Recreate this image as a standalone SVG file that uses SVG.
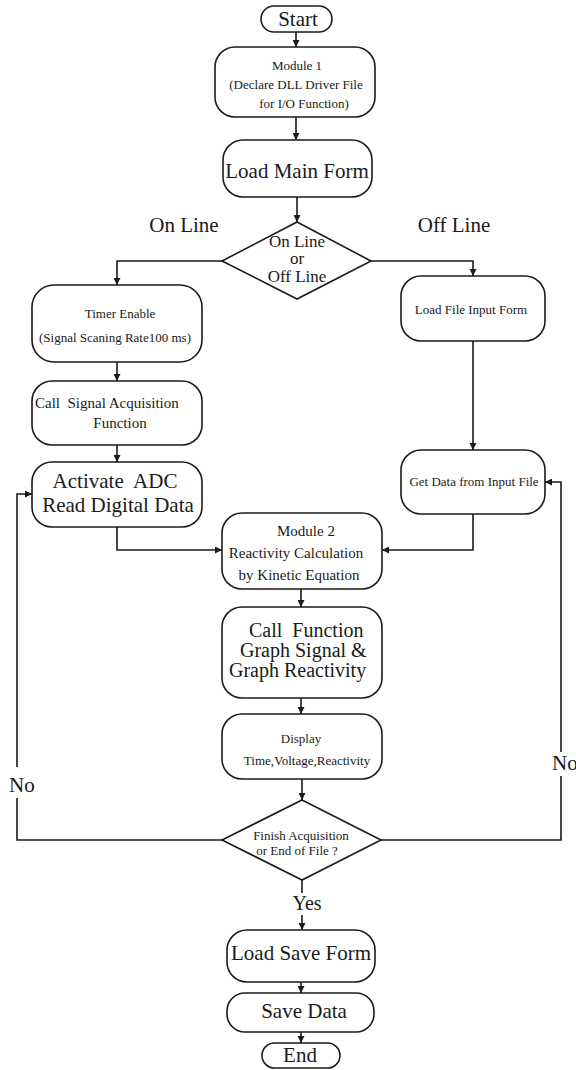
<svg xmlns="http://www.w3.org/2000/svg" width="576" height="1070" viewBox="0 0 576 1070">
<style>
.n{fill:#fff;stroke:#1a1a1a;stroke-width:1.6}
.c{fill:none;stroke:#1a1a1a;stroke-width:1.6}
text{font-family:"Liberation Serif","Times New Roman",serif;fill:#1a1a1a}
.m{text-anchor:middle}
.s13{font-size:13px}
.s15{font-size:15px}
.s17{font-size:17px}
.s20{font-size:20px}
.s21{font-size:21px}
</style>
<defs>
<marker id="ah" viewBox="0 0 8 8" refX="8" refY="4" markerWidth="7" markerHeight="7" markerUnits="userSpaceOnUse" orient="auto">
<path d="M0,0 L8,4 L0,8 z" fill="#1a1a1a"/>
</marker>
</defs>
<rect width="576" height="1070" fill="#fff"/>
<g id="connectors">
<path class="c" d="M296,32 V47" marker-end="url(#ah)"/>
<path class="c" d="M296,117 V140" marker-end="url(#ah)"/>
<path class="c" d="M297,197 V222" marker-end="url(#ah)"/>
<path class="c" d="M222,261 H117 V285" marker-end="url(#ah)"/>
<path class="c" d="M371,261 H473 V276" marker-end="url(#ah)"/>
<path class="c" d="M117,362 V381" marker-end="url(#ah)"/>
<path class="c" d="M117,445 V462" marker-end="url(#ah)"/>
<path class="c" d="M117,527 V550 H222" marker-end="url(#ah)"/>
<path class="c" d="M473,341 V450" marker-end="url(#ah)"/>
<path class="c" d="M473,514 V550 H382" marker-end="url(#ah)"/>
<path class="c" d="M301,589 V607" marker-end="url(#ah)"/>
<path class="c" d="M301,698 V714" marker-end="url(#ah)"/>
<path class="c" d="M302,779 V800" marker-end="url(#ah)"/>
<path class="c" d="M222,840 H17 V798"/>
<path class="c" d="M17,767 V494 H32" marker-end="url(#ah)"/>
<path class="c" d="M381,840 H561 V776"/>
<path class="c" d="M561,752 V482 H545" marker-end="url(#ah)"/>
<path class="c" d="M302,880 V893"/>
<path class="c" d="M302,915 V930" marker-end="url(#ah)"/>
<path class="c" d="M301,982 V993" marker-end="url(#ah)"/>
<path class="c" d="M301,1032 V1043" marker-end="url(#ah)"/>
<text class="s21 m" x="184" y="232">On Line</text>
<text class="s21 m" x="454" y="232">Off Line</text>
<text class="s21" x="9" y="792">No</text>
<text class="s21" x="552" y="770">No</text>
<text class="s20 m" x="307" y="910">Yes</text>
</g>
<g id="start">
<rect class="n" x="261" y="6" width="71" height="26" rx="13"/>
<text class="s21 m" x="298" y="26">Start</text>
</g>
<g id="module1">
<rect class="n" x="215" y="47" width="160" height="70" rx="20"/>
<text class="s13 m" x="297" y="70">Module 1</text>
<text class="s13 m" x="296" y="89">(Declare DLL Driver File</text>
<text class="s13 m" x="304" y="108">for I/O Function)</text>
</g>
<g id="loadMainForm">
<rect class="n" x="223" y="140" width="149" height="57" rx="20"/>
<text class="s21 m" x="297" y="178">Load Main Form</text>
</g>
<g id="decision1">
<polygon class="n" points="297,222 371,261 297,299 222,261"/>
<text class="s17 m" x="297" y="247">On Line</text>
<text class="s17 m" x="297" y="264">or</text>
<text class="s17 m" x="297" y="282">Off Line</text>
</g>
<g id="timerEnable">
<rect class="n" x="32" y="285" width="170" height="77" rx="22"/>
<text class="s13 m" x="120" y="318">Timer Enable</text>
<text class="s13 m" x="115" y="342">(Signal Scaning Rate100 ms)</text>
</g>
<g id="callSignal">
<rect class="n" x="32" y="381" width="170" height="64" rx="20"/>
<text class="s15" x="35" y="408" xml:space="preserve">Call  Signal Acquisition</text>
<text class="s15 m" x="120" y="428">Function</text>
</g>
<g id="activateADC">
<rect class="n" x="32" y="462" width="170" height="65" rx="20"/>
<text class="s21 m" x="115" y="488" xml:space="preserve">Activate  ADC</text>
<text class="s21 m" x="118" y="512">Read Digital Data</text>
</g>
<g id="loadFileInput">
<rect class="n" x="401" y="276" width="144" height="65" rx="20"/>
<text class="s13 m" x="471" y="314">Load File Input Form</text>
</g>
<g id="getData">
<rect class="n" x="401" y="450" width="144" height="64" rx="20"/>
<text class="s13 m" x="474" y="486">Get Data from Input File</text>
</g>
<g id="module2">
<rect class="n" x="222" y="513" width="160" height="76" rx="20"/>
<text class="s15 m" x="306" y="536">Module 2</text>
<text class="s15 m" x="296" y="558">Reactivity Calculation</text>
<text class="s15 m" x="299" y="580">by Kinetic Equation</text>
</g>
<g id="callFunction">
<rect class="n" x="222" y="607" width="160" height="91" rx="20"/>
<text class="s20" x="249" y="637" xml:space="preserve">Call  Function</text>
<text class="s20" x="240" y="657">Graph Signal &amp;</text>
<text class="s20" x="229" y="677">Graph Reactivity</text>
</g>
<g id="display">
<rect class="n" x="222" y="714" width="160" height="65" rx="20"/>
<text class="s13 m" x="301" y="743">Display</text>
<text class="s13 m" x="307" y="765">Time,Voltage,Reactivity</text>
</g>
<g id="decision2">
<polygon class="n" points="302,800 381,840 302,880 222,840"/>
<text class="s13 m" x="301" y="840">Finish Acquisition</text>
<text class="s13 m" x="297" y="855">or End of File ?</text>
</g>
<g id="loadSaveForm">
<rect class="n" x="227" y="930" width="148" height="52" rx="20"/>
<text class="s21 m" x="301" y="960">Load Save Form</text>
</g>
<g id="saveData">
<rect class="n" x="227" y="993" width="147" height="39" rx="18"/>
<text class="s21 m" x="304" y="1018">Save Data</text>
</g>
<g id="end">
<rect class="n" x="262" y="1043" width="78" height="25" rx="12.5"/>
<text class="s21 m" x="300" y="1062">End</text>
</g>
</svg>
